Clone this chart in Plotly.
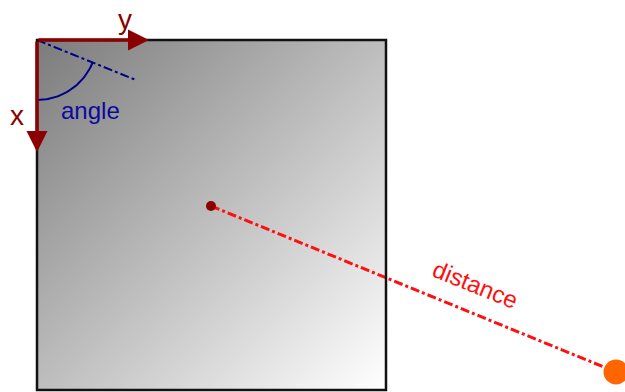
import numpy as np
import plotly.graph_objects as go

# Diagram geometry (pixel space, y downward)
square_x = [37, 386]
square_y = [40, 390]
origin = [37, 40]
y_axis_tip = [149, 40]
x_axis_tip = [37, 152]
angle_ray_end = [136, 80]
arc_radius = 60
arc_angles_deg = [90, 22]
center_point = [211, 206]
target_point = [616, 372]
labels = ["y", "x", "angle", "distance"]

fig = go.Figure()

# Gradient-filled square
n = 120
xe = np.linspace(square_x[0], square_x[1], n + 1)
ye = np.linspace(square_y[0], square_y[1], n + 1)
xc = (xe[:-1] + xe[1:]) / 2
yc = (ye[:-1] + ye[1:]) / 2
X, Y = np.meshgrid(xc, yc)
Z = (X - square_x[0]) + (Y - square_y[0])
fig.add_trace(go.Heatmap(x=xe, y=ye, z=Z, showscale=False, hoverinfo="skip",
                         colorscale=[[0, "#7c7c7c"], [1, "#ffffff"]]))
fig.add_shape(type="rect", x0=square_x[0], x1=square_x[1], y0=square_y[0], y1=square_y[1],
              line=dict(color="#111111", width=2.5))

# angle ray
fig.add_trace(go.Scatter(x=[origin[0], angle_ray_end[0]], y=[origin[1], angle_ray_end[1]],
                         mode="lines", line=dict(color="#00008B", width=2, dash="dashdot"),
                         hoverinfo="skip"))
# arc
t = np.radians(np.linspace(arc_angles_deg[0], arc_angles_deg[1], 40))
fig.add_trace(go.Scatter(x=origin[0] + arc_radius * np.cos(t), y=origin[1] + arc_radius * np.sin(t),
                         mode="lines", line=dict(color="#00008B", width=2), hoverinfo="skip"))

# distance line
fig.add_trace(go.Scatter(x=[center_point[0], target_point[0]], y=[center_point[1], target_point[1]],
                         mode="lines", line=dict(color="#FF1010", width=3, dash="dashdot"),
                         hoverinfo="skip"))
fig.add_trace(go.Scatter(x=[center_point[0]], y=[center_point[1]], mode="markers",
                         marker=dict(color="#8B0000", size=10), hoverinfo="skip"))
fig.add_trace(go.Scatter(x=[target_point[0]], y=[target_point[1]], mode="markers",
                         marker=dict(color="#FF6600", size=25), hoverinfo="skip", cliponaxis=False))

# axis arrows
for tip in (y_axis_tip, x_axis_tip):
    fig.add_annotation(x=tip[0], y=tip[1], ax=origin[0], ay=origin[1], xref="x", yref="y",
                       axref="x", ayref="y", showarrow=True, arrowhead=2, arrowsize=1.2,
                       arrowwidth=3.5, arrowcolor="#8B0000", text="")

fig.add_annotation(x=125, y=19, text=labels[0], showarrow=False, borderpad=0,
                   font=dict(family="Liberation Sans, Arial", size=28, color="#8B0000"))
fig.add_annotation(x=17, y=115, text=labels[1], showarrow=False, borderpad=0,
                   font=dict(family="Liberation Sans, Arial", size=28, color="#8B0000"))
fig.add_annotation(x=90, y=110, text=labels[2], showarrow=False,
                   font=dict(family="Liberation Sans, Arial", size=24, color="#0a0aa0"))
fig.add_annotation(x=475, y=284, text=labels[3], showarrow=False, textangle=22,
                   font=dict(family="Liberation Sans, Arial", size=24, color="#FF1010"))

fig.update_layout(width=625, height=392, margin=dict(l=0, r=0, t=0, b=0),
                  plot_bgcolor="white", paper_bgcolor="white", showlegend=False,
                  xaxis=dict(range=[0, 625], visible=False, fixedrange=True),
                  yaxis=dict(range=[392, 0], visible=False, fixedrange=True))
fig.write_html("out.html", config={"displayModeBar": False},
               post_script="document.body.style.margin='0';document.body.style.overflow='hidden';")
